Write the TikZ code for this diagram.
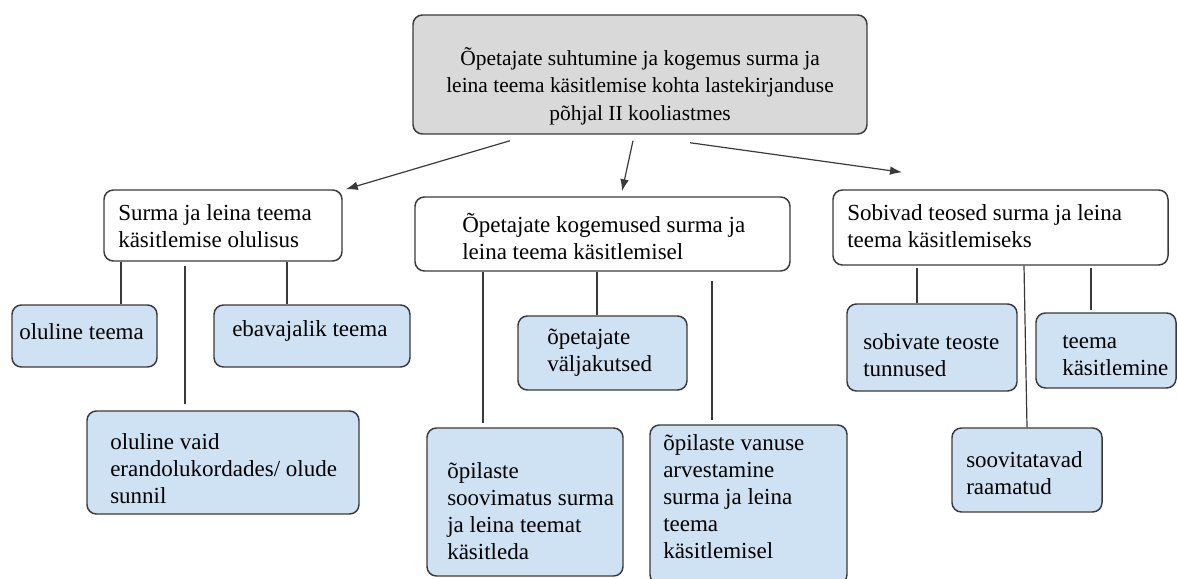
\documentclass[tikz,border=0pt]{standalone}
\usepackage{fontspec}
\setmainfont{Liberation Serif}
\usetikzlibrary{arrows.meta, fit}

\definecolor{topgray}{HTML}{D9D9D9}
\definecolor{leafblue}{HTML}{CFE2F3}
\definecolor{edgegray}{HTML}{3A3A3A}

\begin{document}
\begin{tikzpicture}[x=0.75pt,y=-0.75pt,>={Latex[length=9pt,width=6.5pt]},
    box/.style={draw=edgegray, line width=1.1pt, rounded corners=7pt, inner sep=0pt},
    topbox/.style={box, fill=topgray},
    headbox/.style={box, fill=white},
    leafbox/.style={box, fill=leafblue},
    txt/.style={anchor=west, align=left, inner sep=0pt,
        font=\fontsize{17.25pt}{20.25pt}\selectfont},
    link/.style={draw=edgegray, line width=0.9pt}]

    \useasboundingbox (0,0) rectangle (1177,578);

    % Main topic box
    \node[topbox, fit={(413,15) (867,134)}] (top) {};
    \node[txt, anchor=center, align=center,
        font=\fontsize{16.1pt}{20.6pt}\selectfont] (ttop) at (640,86)
        {Õpetajate suhtumine ja kogemus surma ja\\leina teema käsitlemise kohta
        lastekirjanduse\\põhjal II kooliastmes};

    % Sub-topic boxes and label(s)
    \node[headbox, fit={(104,190) (342,261)}] (A) {};
    \node[headbox, fit={(415,197) (790,271)}] (B) {};
    \node[headbox, fit={(833,190) (1168,265)}] (C) {};
    \node[txt] (tA) at (118,226) {Surma ja leina teema\\käsitlemise olulisus};
    \node[txt] (tB) at (462,236) {Õpetajate kogemused surma ja\\leina teema käsitlemisel};
    \node[txt] (tC) at (847,226) {Sobivad teosed surma ja leina\\teema käsitlemiseks};

    % Leaf boxes and label(s)
    \node[leafbox, fit={(12,305) (157,367)}] (A1) {};
    \node[leafbox, fit={(214,305) (410,367)}] (A2) {};
    \node[leafbox, fit={(87,411) (359,514)}] (A3) {};
    \node[leafbox, fit={(518,316) (687,390)}] (B1) {};
    \node[leafbox, fit={(427,428) (623,576)}] (B2) {};
    \node[leafbox, fit={(650,425) (847,584)}] (B3) {};
    \node[leafbox, fit={(847,304) (1017,391)}] (C1) {};
    \node[leafbox, fit={(1036,313) (1176,388)}] (C2) {};
    \node[leafbox, fit={(952,428) (1102,512)}] (C3) {};

    \node[txt] (tA1) at (19,332) {oluline teema};
    \node[txt] (tA2) at (232,331) {ebavajalik teema};
    \node[txt] (tA3) at (110,469) {oluline vaid\\erandolukordades/ olude\\sunnil};
    \node[txt] (tB1) at (547,353) {õpetajate\\väljakutsed};
    \node[txt] (tB2) at (447,511) {õpilaste\\soovimatus surma\\ja leina teemat\\käsitleda};
    \node[txt] (tB3) at (663,497) {õpilaste vanuse\\arvestamine\\surma ja leina\\teema\\käsitlemisel};
    \node[txt] (tC1) at (863,355) {sobivate teoste\\tunnused};
    \node[txt] (tC2) at (1062,356) {teema\\käsitlemine};
    \node[txt] (tC3) at (966,473) {soovitatavad\\raamatud};

    % Arrow(s) from main topic
    \draw[->, link] ([shift={(-130,6)}]top.south) -- ([shift={(3,0)}]A.north east);
    \draw[->, link] ([shift={(-7,6)}]top.south) -- ([shift={(19.5,-5)}]B.north);
    \draw[->, link] ([shift={(50,8)}]top.south) -- ([shift={(-98.5,-17)}]C.north);

    % Link line(s)
    \draw[link] (A.south -| 121,0) -- (A1.north -| 121,0);
    \draw[link, shorten <=3pt, shorten >=5pt] (A.south -| 185,0) -- (A3.north -| 185,0);
    \draw[link] (A.south -| 287,0) -- (A2.north -| 287,0);
    \draw[link, shorten >=3pt] (B.south -| 483,0) -- (B2.north -| 483,0);
    \draw[link] (B.south -| 597,0) -- (B1.north -| 597,0);
    \draw[link, shorten <=7pt, shorten >=3pt] (B.south -| 712,0) -- (B3.north -| 712,0);
    \draw[link, shorten <=2pt] (C.south -| 917,0) -- (C1.north -| 917,0);
    \draw[link] (C.south -| 1024,0) -- (C3.north -| 1027,0);
    \draw[link, shorten <=2pt, shorten >=2pt] (C.south -| 1091,0) -- (C2.north -| 1091,0);

\end{tikzpicture}
\end{document}
